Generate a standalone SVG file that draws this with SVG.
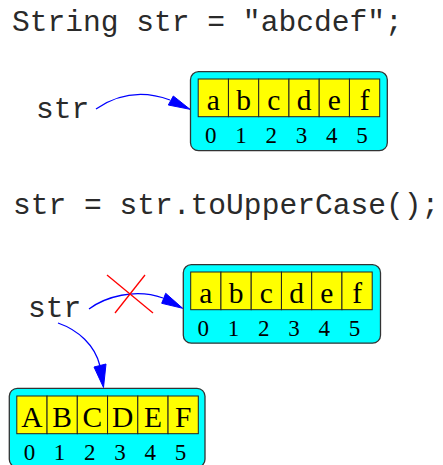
<svg xmlns="http://www.w3.org/2000/svg" width="443" height="465" viewBox="0 0 443 465">
<style>
.code{font-family:"Liberation Mono","Courier New",monospace;font-size:29.6px;fill:#2a2a2a}
.box{fill:#00ffff;stroke:#333;stroke-width:1.3}
.cell{fill:#ffff00;stroke:#222;stroke-width:1}
.ch{font-family:"Liberation Serif","Times New Roman",serif;font-size:29.5px;fill:#000;text-anchor:middle}
.ix{font-family:"Liberation Serif","Times New Roman",serif;font-size:23px;fill:#000;text-anchor:middle}
.edge{fill:none;stroke:#0000ff;stroke-width:1.3}
.head{fill:#0000ff;stroke:#0000ff;stroke-width:1}
.cross{stroke:#ff0000;stroke-width:1.3}
</style>
<defs>
<g id="cells">
<rect class="cell" x="0" y="0" width="30.25" height="37.7"/>
<rect class="cell" x="30.25" y="0" width="30.25" height="37.7"/>
<rect class="cell" x="60.5" y="0" width="30.25" height="37.7"/>
<rect class="cell" x="90.75" y="0" width="30.25" height="37.7"/>
<rect class="cell" x="121" y="0" width="30.25" height="37.7"/>
<rect class="cell" x="151.25" y="0" width="30.25" height="37.7"/>
<text class="ix" x="12.6" y="63.7">0</text>
<text class="ix" x="42.8" y="63.7">1</text>
<text class="ix" x="73" y="63.7">2</text>
<text class="ix" x="103.3" y="63.7">3</text>
<text class="ix" x="133.5" y="63.7">4</text>
<text class="ix" x="163.8" y="63.7">5</text>
</g>
</defs>
<text class="code" x="12" y="31">String str = "abcdef";</text>
<text class="code" x="13" y="214">str = str.toUpperCase();</text>

<g id="str1"><text class="code" x="36" y="117.7">str</text></g>
<g id="str2"><text class="code" x="28" y="316.7">str</text></g>

<g id="lower1">
<rect class="box" x="190.5" y="71.7" width="196.8" height="79" rx="8"/>
<g transform="translate(198.2,79)">
<use href="#cells"/>
<text class="ch" x="15.1" y="30.5">a</text>
<text class="ch" x="45.4" y="30.5">b</text>
<text class="ch" x="75.6" y="30.5">c</text>
<text class="ch" x="105.9" y="30.5">d</text>
<text class="ch" x="136.1" y="30.5">e</text>
<text class="ch" x="166.4" y="30.5">f</text>
</g>
</g>

<g id="lower2">
<rect class="box" x="183.3" y="264.7" width="197.2" height="78.5" rx="8"/>
<g transform="translate(190.7,272)">
<use href="#cells"/>
<text class="ch" x="15.1" y="30.5">a</text>
<text class="ch" x="45.4" y="30.5">b</text>
<text class="ch" x="75.6" y="30.5">c</text>
<text class="ch" x="105.9" y="30.5">d</text>
<text class="ch" x="136.1" y="30.5">e</text>
<text class="ch" x="166.4" y="30.5">f</text>
</g>
</g>

<g id="upper">
<rect class="box" x="9.3" y="388.3" width="195.7" height="79" rx="8"/>
<g transform="translate(16.8,396)">
<use href="#cells"/>
<text class="ch" x="15.1" y="30.5">A</text>
<text class="ch" x="45.4" y="30.5">B</text>
<text class="ch" x="75.6" y="30.5">C</text>
<text class="ch" x="105.9" y="30.5">D</text>
<text class="ch" x="136.1" y="30.5">E</text>
<text class="ch" x="166.4" y="30.5">F</text>
</g>
</g>

<g id="connectors">
<path class="edge" d="M96,109 C115,96 140,89 170,100"/>
<polygon class="head" points="173.3,96 190,109.3 168.3,105"/>
<path class="edge" d="M89,309 C105,297 135,288 163,298"/>
<polygon class="head" points="165.7,293.3 182.7,308.3 161.7,303.3"/>
<line class="cross" x1="107" y1="275" x2="153" y2="313"/>
<line class="cross" x1="145" y1="275" x2="115" y2="313"/>
<path class="edge" d="M58,323 C78,330 95,345 100,366"/>
<polygon class="head" points="94,367 106,364 103.5,387.5"/>
</g>
</svg>
